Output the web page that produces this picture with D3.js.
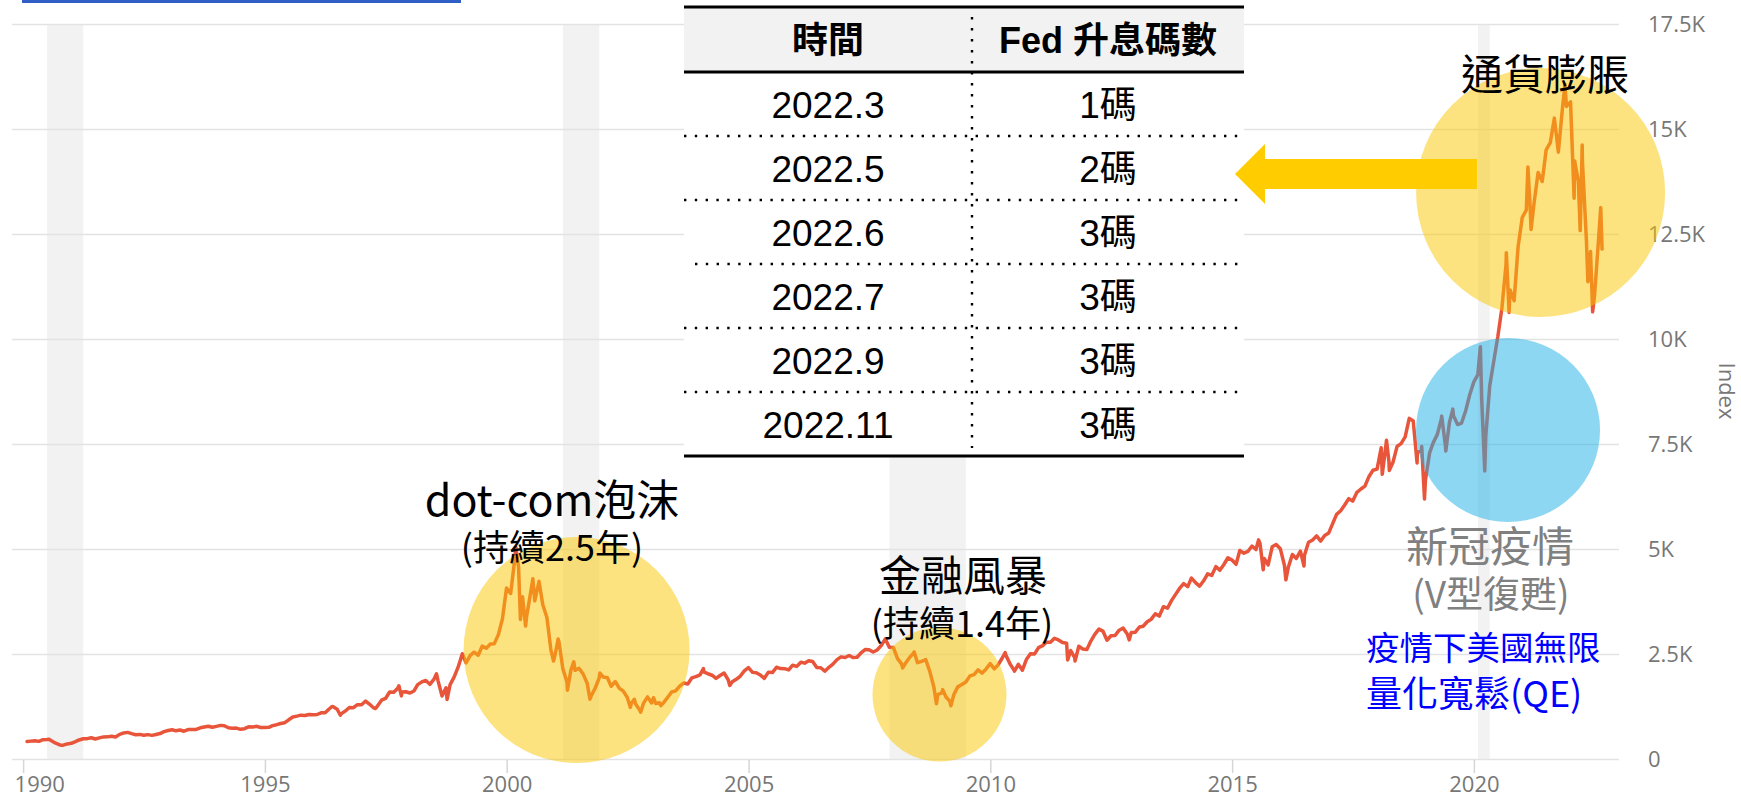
<!DOCTYPE html>
<html><head><meta charset="utf-8">
<script src="https://cdn.jsdelivr.net/npm/d3@7"></script>
<style>html,body{margin:0;padding:0;background:#fff;} svg{display:block;}</style>
</head><body>
<svg id="chart" width="1741" height="795"></svg>
<script>
// ---------------- DATA ----------------
const startYear = 1990;
// Nasdaq-style index, month-end values (Jan 1990 .. Jul 2022)
const monthlyClose = [
415.8,425.8,435.5,420.1,458.9,462.3,438.2,381.2,344.5,329.8,359.1,373.8,
414.2,453.1,482.3,484.7,506.1,475.9,502.0,525.7,527.0,542.9,523.9,586.3,
620.2,633.5,603.8,578.7,585.3,563.6,580.8,563.1,583.3,605.2,652.7,677.0,
696.3,670.8,690.1,661.4,700.5,704.0,704.7,742.8,763.0,779.3,754.4,776.8,
800.5,792.5,743.5,733.8,735.2,706.0,722.2,765.6,764.3,777.5,750.3,752.0,
755.2,793.7,817.2,843.9,864.6,933.5,1001.2,1020.1,1043.5,1036.1,1059.2,1052.1,
1059.8,1100.1,1101.4,1190.5,1243.4,1185.0,1080.6,1141.5,1226.9,1221.5,1292.6,1291.0,
1379.9,1309.0,1221.7,1260.8,1400.3,1442.1,1593.8,1587.3,1685.7,1593.6,1600.6,1570.4,
1619.4,1770.5,1835.7,1868.4,1778.9,1894.7,1872.4,1499.3,1694.0,1771.4,1949.5,2192.7,
2505.9,2288.0,2461.4,2542.9,2470.5,2686.1,2638.5,2739.4,2746.2,2966.4,3336.2,4069.3,
3940.4,4696.7,4572.8,3860.7,3400.9,3966.1,3767.0,4206.4,3672.8,3370.0,2597.9,2470.5,
2772.7,2151.8,1840.3,2116.2,2110.5,2160.5,2027.1,1805.4,1498.8,1690.2,1930.6,1950.4,
1934.0,1731.5,1845.4,1688.2,1615.7,1463.2,1328.3,1314.9,1172.1,1329.8,1478.8,1335.5,
1320.9,1337.5,1341.2,1464.3,1595.9,1622.8,1735.0,1810.5,1786.9,1932.2,1960.3,2003.4,
2066.2,2029.8,1994.2,1920.2,1986.7,2047.8,1887.4,1838.1,1896.8,1975.0,2096.8,2175.4,
2062.4,2051.7,1999.2,1921.7,2068.2,2057.0,2184.8,2152.1,2151.7,2120.3,2232.8,2205.3,
2305.8,2281.4,2339.8,2322.6,2178.9,2172.1,2091.5,2183.8,2258.4,2366.7,2431.8,2415.3,
2463.9,2416.2,2421.6,2525.1,2604.5,2603.2,2546.3,2596.4,2701.5,2859.1,2661.0,2652.3,
2389.9,2271.5,2279.1,2412.8,2522.7,2293.0,2325.6,2367.5,2091.9,1721.0,1535.6,1577.0,
1476.4,1377.8,1528.6,1717.3,1774.3,1835.0,1979.0,2009.1,2122.4,2045.1,2144.6,2269.2,
2147.4,2238.3,2398.0,2461.2,2257.0,2109.2,2254.7,2114.0,2368.6,2507.4,2498.2,2652.9,
2700.1,2782.3,2781.1,2873.5,2835.3,2773.5,2756.4,2579.5,2415.4,2684.4,2620.3,2605.2,
2813.8,2966.9,3091.6,3046.4,2827.3,2935.1,2939.5,3067.0,3116.2,2977.2,3010.2,3019.5,
3142.1,3160.2,3267.5,3328.8,3455.9,3403.3,3626.4,3589.9,3771.5,3919.7,4059.9,4176.6,
4104.0,4308.1,4199.0,4114.6,4242.6,4408.2,4369.8,4580.3,4493.4,4630.7,4791.6,4736.1,
4635.2,4963.5,4900.9,4941.4,5070.0,4986.9,5128.3,4776.5,4620.2,5053.8,5108.7,5007.4,
4614.0,4558.0,4869.8,4775.4,4948.1,4843.0,5162.1,5213.2,5312.0,5189.1,5323.7,5383.1,
5614.8,5825.4,5911.7,6047.6,6198.5,6140.4,6348.1,6428.7,6496.0,6727.7,6874.0,6903.4,
7411.5,7273.0,7063.4,7066.3,7442.1,7510.3,7671.8,8109.5,8046.4,7305.9,7330.5,6635.3,
7281.7,7532.5,7729.3,8095.4,7453.2,8006.2,8175.4,7962.9,7999.3,8292.4,8665.5,8972.6,
9150.9,8567.4,7700.1,8889.6,9489.9,10058.8,10745.3,11775.5,11167.5,10911.6,12198.7,12888.3,
13070.7,13192.3,13246.9,13962.7,13748.7,14504.0,14672.7,15259.2,14448.6,15498.4,15537.7,15645.0,
14239.9,13751.4,14220.5,12334.6,12081.4,11028.7,12390.7
];
// intra-month highs / lows visible in the chart
const intraDates = [
"1990-07-16","1990-10-16","1996-05-22","1996-07-24","1997-04-14","1997-10-09","1997-10-28",
"1998-07-20","1998-10-08","2000-03-10","2000-04-14","2000-05-23","2000-07-17","2000-09-01","2000-12-20",
"2001-01-24","2001-04-04","2001-05-22","2001-09-21","2001-12-05","2002-07-23","2002-08-22","2002-10-09",
"2003-01-14","2003-03-11","2004-01-26","2004-08-12","2007-10-31","2008-03-10","2008-06-05","2008-11-20",
"2009-01-06","2009-03-09","2010-04-23","2010-07-02","2011-08-08","2011-10-03","2012-11-15",
"2015-07-20","2015-08-24","2016-02-11","2016-06-27","2018-02-08","2018-03-12","2018-04-02","2018-10-29",
"2018-12-03","2018-12-24","2019-05-03","2019-06-03","2019-07-26","2020-02-19","2020-03-23","2020-09-02",
"2020-09-23","2021-02-12","2021-03-08","2021-11-19","2022-01-27","2022-03-14","2022-03-29","2022-05-11",
"2022-06-16","2022-08-16","2022-08-26"
];
const intraValues = [
470,325,1250,1042,1201,1745,1503,
2028,1419,5048,3321,3164,4290,4234,2333,
2859,1638,2313,1423,2046,1229,1423,1114,
1460,1271,2153,1752,2859,2170,2549,1316,
1652,1268,2535,2091,2358,2335,2836,
5218,4506,4266,4594,6777,7588,6870,7050,
7442,6193,8164,7333,8330,9817,6860,12056,
10633,14095,12609,16057,13352,12581,14619,11364,
10646,13128,12141
];
const recessionStarts = ["1990-07-01","2001-03-01","2007-12-01","2020-02-01"];
const recessionEnds   = ["1991-03-31","2001-11-30","2009-06-30","2020-04-30"];
const xTickYears  = [1990,1995,2000,2005,2010,2015,2020];
const yTickValues = [0,2500,5000,7500,10000,12500,15000,17500];
const yTickLabels = ["0","2.5K","5K","7.5K","10K","12.5K","15K","17.5K"];
const yAxisTitle  = "Index";
const tableHeader = ["時間","Fed 升息碼數"];
const hikeDates   = ["2022.3","2022.5","2022.6","2022.7","2022.9","2022.11"];
const hikeSizes   = ["1碼","2碼","3碼","3碼","3碼","3碼"];

// ---------------- LAYOUT ----------------
const parse = d3.utcParse("%Y-%m-%d");
const svg = d3.select("#chart");
const plotL = 12, plotR = 1619, plotT = 24, plotB = 759;
const axisFont = "'Open Sans', sans-serif", axisSize = 22;

const x = d3.scaleUtc()
  .domain([new Date(Date.UTC(1989,9,9)), new Date(Date.UTC(2023,0,1))])
  .range([plotL, plotR]);
const y = d3.scaleLinear().domain([0,17500]).range([plotB, plotT]);

const series = monthlyClose.map((v,i)=>({
  date: new Date(Date.UTC(startYear + Math.floor(i/12), (i%12)+1, 0)), value: v }))
  .concat(intraDates.map((d,i)=>({date: parse(d), value: intraValues[i]})))
  .sort((a,b)=>a.date-b.date);

// top blue tab bar
svg.append("rect").attr("x",22).attr("y",0).attr("width",439).attr("height",3).attr("fill","#2f5fc4");

// recession bands
svg.append("g").selectAll("rect").data(recessionStarts).join("rect")
  .attr("x", (d)=>x(parse(d)))
  .attr("width", (d,i)=>x(parse(recessionEnds[i]))-x(parse(d)))
  .attr("y", plotT).attr("height", plotB-plotT)
  .attr("fill","#f2f2f2");

// y axis with gridlines
const yAxis = svg.append("g").attr("transform",`translate(${plotR},0)`)
  .call(d3.axisRight(y).tickValues(yTickValues)
    .tickFormat((d,i)=>yTickLabels[i]).tickSizeInner(-(plotR-plotL)).tickSizeOuter(0).tickPadding(29));
yAxis.select(".domain").remove();
yAxis.selectAll("line").attr("stroke","#e3e3e3").attr("stroke-width",1.6);
yAxis.selectAll("text").attr("fill","#777").attr("font-family",axisFont).attr("font-size",axisSize);

svg.append("text").attr("transform","translate(1728,391) rotate(90)")
  .attr("text-anchor","middle").attr("dominant-baseline","central")
  .attr("fill","#777").attr("font-family",axisFont).attr("font-size",axisSize).text(yAxisTitle);

// x axis
const xAxis = svg.append("g").attr("transform",`translate(0,${plotB+1})`)
  .call(d3.axisBottom(x).tickValues(xTickYears.map(yy=>new Date(Date.UTC(yy,0,1))))
    .tickFormat(d3.utcFormat("%Y")).tickSizeInner(13).tickSizeOuter(0).tickPadding(3));
xAxis.select(".domain").remove();
xAxis.selectAll("line").attr("stroke","#d6d6d6").attr("stroke-width",1.5);
xAxis.selectAll("text").attr("fill","#777").attr("font-family",axisFont).attr("font-size",axisSize);
xAxis.select(".tick text").attr("text-anchor","start").attr("x",-9);

// index line
const line = d3.line().x(d=>x(d.date)).y(d=>y(d.value));
svg.append("path").datum(series).attr("d",line)
  .attr("fill","none").attr("stroke","#e8553a").attr("stroke-width",3.5)
  .attr("stroke-linejoin","round").attr("stroke-linecap","round");

// highlight circles (placed in data space)
const circles = [
  {date:"2001-06-12", value:2595, r:113, fill:"rgba(250,200,0,0.5)"},
  {date:"2008-12-13", value:1536, r:67,  fill:"rgba(250,200,0,0.5)"},
  {date:"2020-09-15", value:7833, r:92,  fill:"rgba(30,175,232,0.5)"},
  {date:"2021-05-19", value:13488,r:124.5,fill:"rgba(250,200,0,0.5)"}
];
svg.append("g").selectAll("circle").data(circles).join("circle")
  .attr("cx",d=>x(parse(d.date))).attr("cy",d=>y(d.value)).attr("r",d=>d.r).attr("fill",d=>d.fill);

// ---------------- TABLE ----------------
const tL = 684, tR = 1244, tMid = 972, tTop = 7, headH = 65, rowH = 64;
const tB = tTop + headH + rowH*hikeDates.length;
const tg = svg.append("g");
tg.append("rect").attr("x",tL).attr("y",tTop).attr("width",tR-tL).attr("height",tB-tTop).attr("fill","#fff");
tg.append("rect").attr("x",tL).attr("y",tTop).attr("width",tR-tL).attr("height",headH).attr("fill","#f2f2f2");
const tfont = "'Liberation Sans', Arial, 'Noto Sans CJK TC', sans-serif";
tg.selectAll("text.h").data(tableHeader).join("text").attr("class","h")
  .attr("x",(d,i)=> i===0 ? (tL+tMid)/2 : (tMid+tR)/2).attr("y",tTop+headH/2+1)
  .attr("text-anchor","middle").attr("dominant-baseline","central")
  .attr("font-family",tfont).attr("font-weight","bold").attr("font-size",36).attr("fill","#000").text(d=>d);
tg.selectAll("text.c1").data(hikeDates).join("text").attr("class","c1")
  .attr("x",(tL+tMid)/2).attr("y",(d,i)=>tTop+headH+rowH*i+rowH/2+1)
  .attr("text-anchor","middle").attr("dominant-baseline","central")
  .attr("font-family",tfont).attr("font-size",37).attr("fill","#000").text(d=>d);
tg.selectAll("text.c2").data(hikeSizes).join("text").attr("class","c2")
  .attr("x",(tMid+tR)/2).attr("y",(d,i)=>tTop+headH+rowH*i+rowH/2+1)
  .attr("text-anchor","middle").attr("dominant-baseline","central")
  .attr("font-family",tfont).attr("font-size",37).attr("fill","#000").text(d=>d);
// dotted separators
hikeDates.slice(1).forEach((d,i)=>{
  const yy = tTop+headH+rowH*(i+1);
  tg.append("line").attr("x1",i===2 ? tL+11 : tL).attr("x2",tR).attr("y1",yy).attr("y2",yy)
    .attr("stroke","#000").attr("stroke-width",2.4).attr("stroke-dasharray","2.4 8.4");
});
tg.append("line").attr("x1",tMid).attr("x2",tMid).attr("y1",tTop+10).attr("y2",tB-8)
  .attr("stroke","#000").attr("stroke-width",2.4).attr("stroke-dasharray","2.4 8.6");
[tTop, tTop+headH, tB].forEach(yy=>{
  tg.append("line").attr("x1",tL).attr("x2",tR).attr("y1",yy).attr("y2",yy)
    .attr("stroke","#000").attr("stroke-width",3);
});

// arrow
svg.append("path")
  .attr("d", d3.line()([[1235,174],[1265,144],[1265,159],[1477,159],[1477,189],[1265,189],[1265,204]]) + "Z")
  .attr("fill","#ffcc00");

// ---------------- ANNOTATION TEXT ----------------
const afont = "'Noto Sans CJK TC', 'Noto Sans', sans-serif";
const notes = [
  {t:"dot-com泡沫", x:552, y:497, s:43, c:"#000", a:"middle"},
  {t:"(持續2.5年)", x:552, y:545, s:36, c:"#000", a:"middle"},
  {t:"金融風暴", x:963, y:572, s:42, c:"#000", a:"middle"},
  {t:"(持續1.4年)", x:962, y:621, s:36, c:"#000", a:"middle"},
  {t:"新冠疫情", x:1490, y:543, s:42, c:"#808080", a:"middle"},
  {t:"(V型復甦)", x:1491, y:592, s:37, c:"#808080", a:"middle"},
  {t:"疫情下美國無限", x:1366, y:645, s:33.5, c:"#0000ff", a:"start"},
  {t:"量化寬鬆(QE)", x:1366, y:691, s:36, c:"#0000ff", a:"start"},
  {t:"通貨膨脹", x:1545, y:71, s:42, c:"#000", a:"middle"}
];
svg.append("g").selectAll("text").data(notes).join("text")
  .attr("x",d=>d.x).attr("y",d=>d.y).attr("text-anchor",d=>d.a).attr("dominant-baseline","central")
  .attr("font-family",afont).attr("font-size",d=>d.s).attr("fill",d=>d.c).text(d=>d.t);
</script>
</body></html>
